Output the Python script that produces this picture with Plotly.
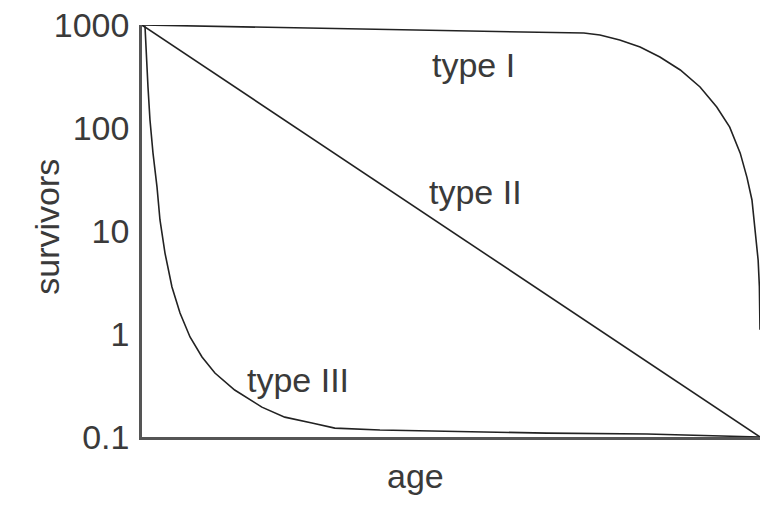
import plotly.graph_objects as go

# survivorship curves (age in % of life span)
age_1 = [0, 38.5, 65.0, 71.5, 74.1, 77.3, 80.6, 83.8, 87.1, 90.3, 93.0, 95.1, 96.8, 97.9, 98.7, 99.2, 99.7, 99.9, 100]
surv_1 = [1000, 912, 860, 835, 800, 715, 611, 489, 366, 250, 160, 102, 57, 33, 20, 10.9, 5.2, 2.9, 1.1]

age_2 = [0, 100]
surv_2 = [1000, 0.1]

age_3 = [0, 0.49, 0.97, 1.29, 1.78, 2.43, 2.91, 3.72, 4.85, 6.15, 7.77, 9.71, 11.8, 15.0,
         19.4, 23.1, 27.5, 31.2, 38.5, 65.5, 81.7, 100]
surv_3 = [1000, 955, 250, 120, 57, 26.7, 12.8, 6.1, 2.86, 1.60, 0.935, 0.598, 0.418, 0.286,
          0.195, 0.156, 0.137, 0.122, 0.117, 0.109, 0.107, 0.1]

tick_vals = [0.1, 1, 10, 100, 1000]
tick_text = ['0.1', '1', '10', '100', '1000']

font_name = 'Liberation Sans, Arial, sans-serif'
text_color = '#3a3a3a'

fig = go.Figure()
for xs, ys in [(age_1, surv_1), (age_2, surv_2), (age_3, surv_3)]:
    fig.add_trace(go.Scatter(x=xs, y=ys, mode='lines',
                             line=dict(color='#222222', width=1.6),
                             cliponaxis=False, hoverinfo='skip'))

labels = [('type I', 53.6, 2.61), ('type II', 53.9, 1.38), ('type III', 25.2, -0.447)]
for txt, ax_x, ax_y in labels:
    fig.add_annotation(x=ax_x, y=ax_y, text=txt, showarrow=False,
                       font=dict(size=34, color=text_color, family=font_name))

fig.add_annotation(x=44.3, y=-0.146, xref='x', yref='paper', text='age', showarrow=False,
                   font=dict(size=34, color=text_color, family=font_name))
fig.add_annotation(x=-0.188, y=0.51, xref='paper', yref='paper', text='survivors', showarrow=False,
                   textangle=-90, font=dict(size=34, color=text_color, family=font_name))

fig.update_layout(
    width=762, height=512,
    margin=dict(l=142, r=2, t=25, b=75),
    plot_bgcolor='white', paper_bgcolor='white',
    showlegend=False,
    xaxis=dict(range=[0, 100], showline=True, linecolor='#555555', linewidth=2.5,
               showgrid=False, zeroline=False, showticklabels=False, ticks='',
               automargin=False),
    yaxis=dict(type='log', range=[-1, 3], showline=True, linecolor='#555555', linewidth=2.5,
               showgrid=False, zeroline=False, ticks='', automargin=False,
               tickvals=tick_vals, ticktext=tick_text, ticklabelstandoff=3,
               tickfont=dict(size=34, color=text_color, family=font_name)),
)

# the page body has an 8px default margin; drop it so the figure fills the window
fig.write_html('out.html', config={'displayModeBar': False},
               post_script="document.body.style.margin='0';document.body.style.overflow='hidden';")
